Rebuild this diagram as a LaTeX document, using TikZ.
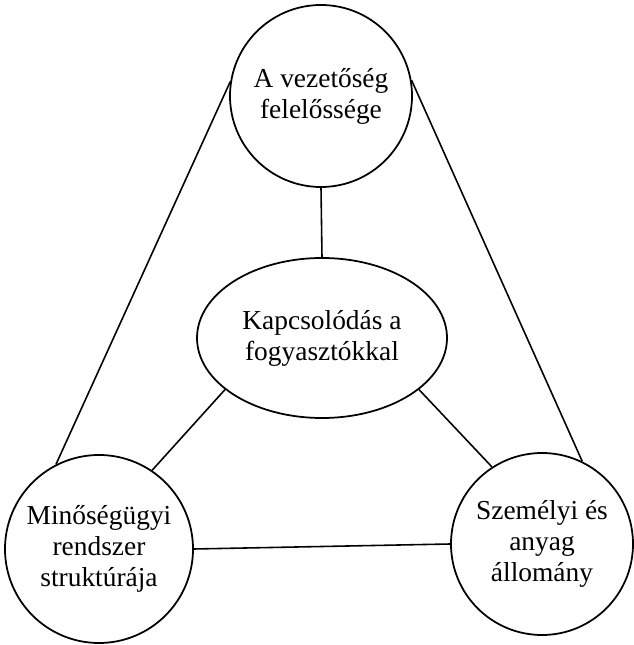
\documentclass[tikz,border=0pt]{standalone}
\usepackage{fontspec}
\setmainfont{Liberation Serif}
\usepackage{tikz}
\usetikzlibrary{shapes.geometric}

\begin{document}
\begin{tikzpicture}[
    every node/.style={font=\fontsize{15.6}{17.6}\selectfont, align=center},
    kor/.style={draw, circle, line width=1pt, inner sep=0pt},
    ellip/.style={draw, ellipse, line width=1pt, inner sep=0pt},
    vonal/.style={line width=0.9pt}
  ]
    \useasboundingbox (0, 0) rectangle (12.66, 12.9);

    % Draw the four fields
    \node[kor, minimum size=3.64cm] (vezetoseg) at (6.42, 10.98)
      {A vezetőség\\felelőssége};
    \node[ellip, minimum width=5cm, minimum height=3.2cm] (kapcs) at (6.44, 6.14)
      {Kapcsolódás a\\fogyasztókkal};
    \node[kor, minimum size=3.76cm] (minoseg) at (1.98, 1.92)
      {Minőségügyi\\rendszer\\struktúrája};
    \node[kor, minimum size=3.64cm] (szemelyi) at (10.84, 2.02)
      {Személyi és\\anyag\\állomány};

    % Connect them
    \draw[vonal] (vezetoseg.south) -- (kapcs.north);
    \draw[vonal] (vezetoseg.171) -- (minoseg.117);
    \draw[vonal] (vezetoseg.10) -- (szemelyi.64);
    \draw[vonal] (kapcs.208) -- (minoseg.56);
    \draw[vonal] (kapcs.332) -- (szemelyi.123);
    \draw[vonal] (minoseg.east) -- (szemelyi.west);
  \end{tikzpicture}
\end{document}
